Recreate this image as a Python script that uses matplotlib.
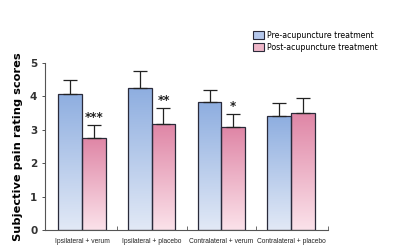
import numpy as np
import matplotlib.pyplot as plt
from matplotlib.patches import Patch

# data
groups = ['Ipsilateral + verum', 'Ipsilateral + placebo', 'Contralateral + verum', 'Contralateral + placebo']
pre = [4.08, 4.24, 3.83, 3.40]
pre_err = [0.41, 0.52, 0.36, 0.40]
post = [2.74, 3.16, 3.08, 3.49]
post_err = [0.39, 0.50, 0.38, 0.47]
stars = ['***', '**', '*', '']

blue_top, blue_bot = '#8eaee0', '#e2e9f6'
pink_top, pink_bot = '#df86a6', '#fbe2ea'


def grad_cmap(top, bot):
    from matplotlib.colors import LinearSegmentedColormap
    return LinearSegmentedColormap.from_list('g', [bot, top])


fig = plt.figure(figsize=(4, 2.5), dpi=100)
ax = fig.add_axes([0.1125, 0.08, 0.7075, 0.668])

x = np.arange(len(groups))
w = 0.34
grad = np.linspace(0, 1, 256).reshape(-1, 1)

def gbars(xs, vals, top, bot):
    bars = ax.bar(xs, vals, w, align='edge', facecolor='none', edgecolor='#2a2a3a', linewidth=0.9, zorder=3)
    for b in bars:
        bx, by = b.get_x(), b.get_y()
        bw, bh = b.get_width(), b.get_height()
        im = ax.imshow(grad, cmap=grad_cmap(top, bot), aspect='auto', origin='lower',
                       extent=[bx, bx + bw, by, by + bh], zorder=2)
        im.set_clip_path(b)
    return bars

gbars(x - w, pre, blue_top, blue_bot)
gbars(x, post, pink_top, pink_bot)

ax.errorbar(x - w / 2, pre, yerr=[np.zeros(4), pre_err], fmt='none', ecolor='#222222',
            elinewidth=0.9, capsize=5, capthick=0.9, zorder=4)
ax.errorbar(x + w / 2, post, yerr=[np.zeros(4), post_err], fmt='none', ecolor='#222222',
            elinewidth=0.9, capsize=5, capthick=0.9, zorder=4)

for i, s in enumerate(stars):
    if s:
        ax.text(x[i] + w / 2, post[i] + post_err[i] + 0.03, s, ha='center', va='bottom',
                fontsize=8.5, fontweight='bold', color='#222222')

ax.set_xlim(-0.53, 3.53)
ax.set_ylim(0, 5)
ax.spines['top'].set_visible(False)
ax.spines['right'].set_visible(False)
for sp in ['left', 'bottom']:
    ax.spines[sp].set_color('#555555')
    ax.spines[sp].set_linewidth(0.8)

ax.set_yticks([0, 1, 2, 3, 4, 5])
ax.tick_params(axis='y', labelsize=7.5, length=2.5, width=0.6, colors='#333333', pad=3)
for t in ax.get_yticklabels():
    t.set_fontweight('bold')

ax.set_xticks([0.5, 1.5, 2.5, 3.53])
ax.set_xticklabels([])
ax.tick_params(axis='x', direction='in', length=3, width=0.6, colors='#555555')
ax.set_xticks(x, minor=True)
ax.set_xticklabels(groups, minor=True, fontsize=4.8, color='#222222', family='Liberation Sans')
ax.tick_params(axis='x', which='minor', length=0, pad=6)

ax.set_ylabel('Subjective pain rating scores', fontsize=8.2, fontweight='bold', labelpad=5)

handles = [Patch(facecolor='#b5c8ec', edgecolor='#2a2a3a', linewidth=0.8),
           Patch(facecolor='#eeb6c8', edgecolor='#2a2a3a', linewidth=0.8)]
fig.legend(handles, ['Pre-acupuncture treatment', 'Post-acupuncture treatment'],
           loc='upper left', bbox_to_anchor=(0.615, 0.905), frameon=False, fontsize=5.7,
           handlelength=1.4, handleheight=1.1, handletextpad=0.4, labelspacing=0.35)

fig.savefig('out.png', dpi=100)
